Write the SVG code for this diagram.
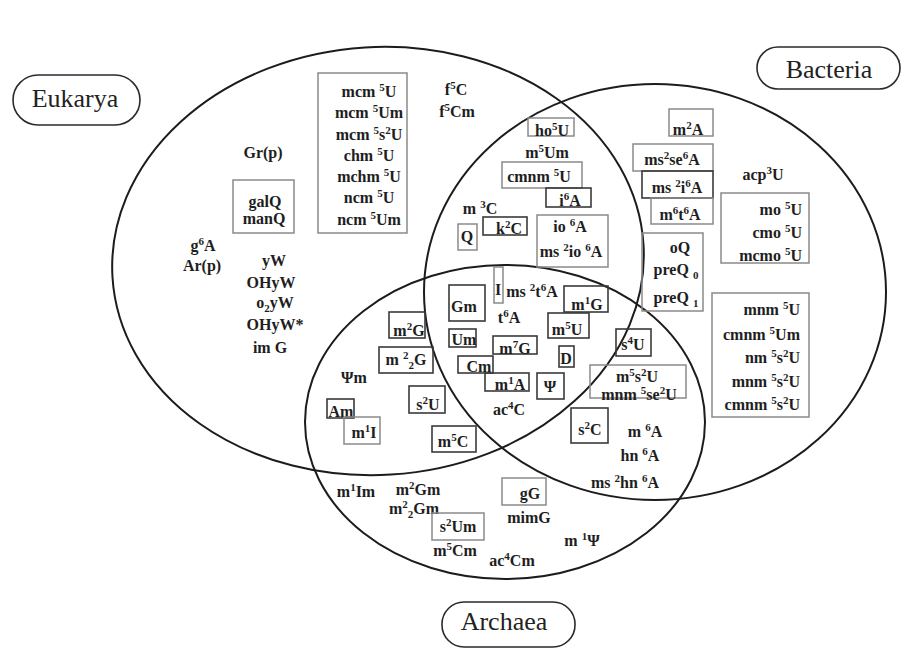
<svg xmlns="http://www.w3.org/2000/svg" width="903" height="649" viewBox="0 0 903 649">
<style>
.c{fill:none;stroke:#1c1c1c;stroke-width:2}
.pill{fill:#fff;stroke:#2a2a2a;stroke-width:1.6}
.lab{font-family:"Liberation Serif","Times New Roman",serif;font-size:26px;fill:#222;text-anchor:middle}
.t{font-family:"Liberation Serif","Times New Roman",serif;font-weight:bold;font-size:16px;fill:#1e1e1e;text-anchor:middle}
.r{text-anchor:end}
.u{font-size:11px;baseline-shift:6px}
.d{font-size:11px;baseline-shift:-4px}
.bx{fill:none;stroke:#8a8a8a;stroke-width:1.5}
.bd{fill:none;stroke:#3a3a3a;stroke-width:1.6}
</style>
<rect width="903" height="649" fill="#fff"/>
<g id="connectors">
<ellipse id="eukarya-circle" class="c" cx="378" cy="261" rx="266" ry="214" transform="rotate(-3.5 378 261)"/>
<ellipse id="bacteria-circle" class="c" cx="655" cy="292" rx="231" ry="208"/>
<ellipse id="archaea-circle" class="c" cx="505" cy="422" rx="200" ry="157"/>
</g>
<g id="label-eukarya"><rect class="pill" x="13" y="75" width="127" height="50" rx="25"/><text class="lab" x="75" y="107">Eukarya</text></g>
<g id="label-bacteria"><rect class="pill" x="757" y="47" width="143" height="42" rx="21"/><text class="lab" x="829" y="78">Bacteria</text></g>
<g id="label-archaea"><rect class="pill" x="442" y="602" width="133" height="45" rx="22"/><text class="lab" x="504" y="630">Archaea</text></g>

<g id="eukarya-only">
<rect class="bx" x="318" y="73" width="89" height="160"/>
<text class="t" x="369" y="97">mcm <tspan class="u">5</tspan>U</text>
<text class="t" x="369" y="118">mcm <tspan class="u">5</tspan>Um</text>
<text class="t" x="369" y="140">mcm <tspan class="u">5</tspan>s<tspan class="u">2</tspan>U</text>
<text class="t" x="369" y="161">chm <tspan class="u">5</tspan>U</text>
<text class="t" x="369" y="182">mchm <tspan class="u">5</tspan>U</text>
<text class="t" x="369" y="203">ncm <tspan class="u">5</tspan>U</text>
<text class="t" x="369" y="225">ncm <tspan class="u">5</tspan>Um</text>
<text class="t" x="456" y="95">f<tspan class="u">5</tspan>C</text>
<text class="t" x="457" y="117">f<tspan class="u">5</tspan>Cm</text>
<text class="t" x="263" y="158">Gr(p)</text>
<rect class="bx" x="233" y="180" width="61" height="53"/>
<text class="t" x="265" y="207">galQ</text>
<text class="t" x="264" y="224">manQ</text>
<text class="t" x="203" y="251">g<tspan class="u">6</tspan>A</text>
<text class="t" x="202" y="271">Ar(p)</text>
<text class="t" x="274" y="266">yW</text>
<text class="t" x="271" y="288">OHyW</text>
<text class="t" x="275" y="308">o<tspan class="d">2</tspan>yW</text>
<text class="t" x="275" y="330">OHyW*</text>
<text class="t" x="270" y="353">im G</text>
</g>

<g id="eukarya-bacteria">
<rect class="bx" x="528" y="118" width="46" height="18"/>
<text class="t" x="552" y="136">ho<tspan class="u">5</tspan>U</text>
<text class="t" x="547" y="158">m<tspan class="u">5</tspan>Um</text>
<rect class="bx" x="502" y="162" width="80" height="26"/>
<text class="t" x="539" y="182">cmnm <tspan class="u">5</tspan>U</text>
<rect class="bd" x="546" y="188" width="45" height="19"/>
<text class="t" x="570" y="206">i<tspan class="u">6</tspan>A</text>
<text class="t" x="480" y="214">m <tspan class="u">3</tspan>C</text>
<rect class="bx" x="458" y="224" width="19" height="26"/>
<text class="t" x="467" y="242">Q</text>
<rect class="bd" x="483" y="217" width="44" height="18"/>
<text class="t" x="509" y="234">k<tspan class="u">2</tspan>C</text>
<rect class="bx" x="537" y="215" width="71" height="52"/>
<text class="t" x="570" y="232">io <tspan class="u">6</tspan>A</text>
<text class="t" x="571" y="257">ms <tspan class="u">2</tspan>io <tspan class="u">6</tspan>A</text>
</g>

<g id="bacteria-only">
<rect class="bx" x="669" y="109" width="44" height="27"/>
<text class="t" x="688" y="135">m<tspan class="u">2</tspan>A</text>
<rect class="bx" x="633" y="144" width="80" height="27"/>
<text class="t" x="672" y="165">ms<tspan class="u">2</tspan>se<tspan class="u">6</tspan>A</text>
<rect class="bd" x="642" y="171" width="71" height="27"/>
<text class="t" x="677" y="193">ms <tspan class="u">2</tspan>i<tspan class="u">6</tspan>A</text>
<rect class="bx" x="651" y="198" width="62" height="26"/>
<text class="t" x="680" y="220">m<tspan class="u">6</tspan>t<tspan class="u">6</tspan>A</text>
<text class="t" x="763" y="180">acp<tspan class="u">3</tspan>U</text>
<rect class="bx" x="721" y="193" width="88" height="70"/>
<text class="t r" x="802" y="215">mo <tspan class="u">5</tspan>U</text>
<text class="t r" x="802" y="238">cmo <tspan class="u">5</tspan>U</text>
<text class="t r" x="802" y="261">mcmo <tspan class="u">5</tspan>U</text>
<rect class="bx" x="642" y="233" width="61" height="78"/>
<text class="t" x="680" y="253">oQ</text>
<text class="t" x="676" y="275">preQ <tspan class="d">0</tspan></text>
<text class="t" x="676" y="303">preQ <tspan class="d">1</tspan></text>
<rect class="bx" x="712" y="293" width="97" height="124"/>
<text class="t r" x="800" y="315">mnm <tspan class="u">5</tspan>U</text>
<text class="t r" x="800" y="340">cmnm <tspan class="u">5</tspan>Um</text>
<text class="t r" x="800" y="363">nm <tspan class="u">5</tspan>s<tspan class="u">2</tspan>U</text>
<text class="t r" x="800" y="387">mnm <tspan class="u">5</tspan>s<tspan class="u">2</tspan>U</text>
<text class="t r" x="800" y="410">cmnm <tspan class="u">5</tspan>s<tspan class="u">2</tspan>U</text>
</g>

<g id="bacteria-archaea">
<rect class="bd" x="616" y="329" width="35" height="27"/>
<text class="t" x="633" y="350">s<tspan class="u">4</tspan>U</text>
<rect class="bx" x="590" y="365" width="96" height="33"/>
<text class="t" x="637" y="382">m<tspan class="u">5</tspan>s<tspan class="u">2</tspan>U</text>
<text class="t" x="639" y="400">mnm <tspan class="u">5</tspan>se<tspan class="u">2</tspan>U</text>
<rect class="bd" x="571" y="408" width="37" height="35"/>
<text class="t" x="590" y="435">s<tspan class="u">2</tspan>C</text>
<text class="t" x="645" y="437">m <tspan class="u">6</tspan>A</text>
<text class="t" x="640" y="461">hn <tspan class="u">6</tspan>A</text>
<text class="t" x="625" y="488">ms <tspan class="u">2</tspan>hn <tspan class="u">6</tspan>A</text>
</g>

<g id="all-three">
<rect class="bx" x="494" y="267" width="9" height="36"/>
<text class="t" x="498" y="295">I</text>
<text class="t" x="532" y="297">ms <tspan class="u">2</tspan>t<tspan class="u">6</tspan>A</text>
<rect class="bd" x="449" y="285" width="36" height="36"/>
<text class="t" x="464" y="312">Gm</text>
<text class="t" x="509" y="323">t<tspan class="u">6</tspan>A</text>
<rect class="bd" x="564" y="286" width="44" height="26"/>
<text class="t" x="587" y="310">m<tspan class="u">1</tspan>G</text>
<rect class="bd" x="548" y="313" width="41" height="25"/>
<text class="t" x="567" y="335">m<tspan class="u">5</tspan>U</text>
<rect class="bd" x="449" y="329" width="27" height="18"/>
<text class="t" x="464" y="345">Um</text>
<rect class="bd" x="493" y="336" width="44" height="18"/>
<text class="t" x="515" y="354">m<tspan class="u">7</tspan>G</text>
<rect class="bd" x="559" y="346" width="15" height="21"/>
<text class="t" x="566" y="364">D</text>
<rect class="bd" x="458" y="356" width="35" height="17"/>
<text class="t" x="479" y="372">Cm</text>
<rect class="bd" x="485" y="373" width="44" height="18"/>
<text class="t" x="510" y="390">m<tspan class="u">1</tspan>A</text>
<rect class="bd" x="537" y="373" width="27" height="26"/>
<text class="t" x="550" y="392">Ψ</text>
<text class="t" x="509" y="415">ac<tspan class="u">4</tspan>C</text>
</g>

<g id="eukarya-archaea">
<rect class="bd" x="389" y="312" width="36" height="26"/>
<text class="t" x="409" y="336">m<tspan class="u">2</tspan>G</text>
<rect class="bd" x="379" y="347" width="54" height="26"/>
<text class="t" x="406" y="365">m <tspan class="u">2</tspan><tspan class="d">2</tspan>G</text>
<text class="t" x="354" y="383">Ψm</text>
<rect class="bd" x="327" y="399" width="27" height="19"/>
<text class="t" x="341" y="417">Am</text>
<rect class="bx" x="344" y="417" width="36" height="27"/>
<text class="t" x="364" y="438">m<tspan class="u">1</tspan>I</text>
<rect class="bd" x="409" y="386" width="36" height="27"/>
<text class="t" x="428" y="410">s<tspan class="u">2</tspan>U</text>
<rect class="bd" x="432" y="426" width="44" height="26"/>
<text class="t" x="453" y="447">m<tspan class="u">5</tspan>C</text>
</g>

<g id="archaea-only">
<text class="t" x="356" y="497">m<tspan class="u">1</tspan>Im</text>
<text class="t" x="418" y="495">m<tspan class="u">2</tspan>Gm</text>
<text class="t" x="414" y="514">m<tspan class="u">2</tspan><tspan class="d">2</tspan>Gm</text>
<rect class="bx" x="432" y="513" width="52" height="27"/>
<text class="t" x="458" y="532">s<tspan class="u">2</tspan>Um</text>
<text class="t" x="455" y="556">m<tspan class="u">5</tspan>Cm</text>
<text class="t" x="512" y="566">ac<tspan class="u">4</tspan>Cm</text>
<rect class="bx" x="502" y="478" width="44" height="27"/>
<text class="t" x="530" y="499">gG</text>
<text class="t" x="529" y="523">mimG</text>
<text class="t" x="582" y="546">m <tspan class="u">1</tspan>Ψ</text>
</g>
</svg>
